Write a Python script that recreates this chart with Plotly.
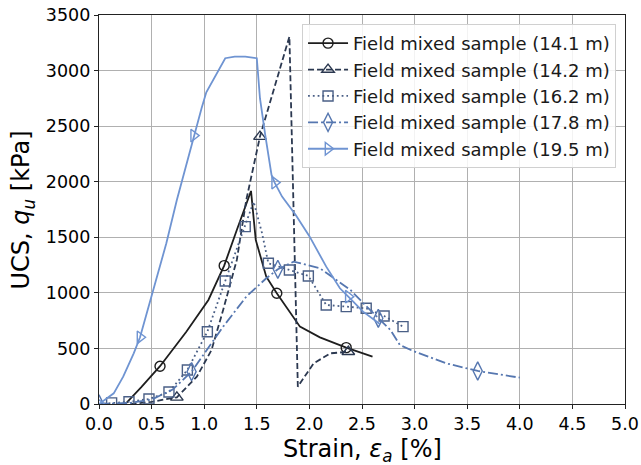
import plotly.graph_objects as go

# ---- data ----
labels = ["Field mixed sample (14.1 m)", "Field mixed sample (14.2 m)",
          "Field mixed sample (16.2 m)", "Field mixed sample (17.8 m)",
          "Field mixed sample (19.5 m)"]

x141 = [0.25, 0.40, 0.58, 0.83, 1.04, 1.19, 1.31, 1.445, 1.49, 1.59, 1.69, 1.91, 2.10, 2.35, 2.60]
y141 = [0, 150, 340, 650, 936, 1245, 1566, 1917, 1476, 1146, 996, 696, 600, 507, 426]
m141 = [0, 0, 1, 0, 0, 1, 0, 0, 0, 0, 1, 0, 0, 1, 0]

x142 = [0.30, 0.50, 0.74, 0.93, 1.07, 1.18, 1.31, 1.40, 1.53, 1.81, 1.89, 2.04, 2.20, 2.37]
y142 = [0, 20, 60, 246, 486, 846, 1296, 1836, 2406, 3306, 156, 366, 456, 470]
m142 = [0, 0, 1, 0, 0, 0, 0, 0, 1, 0, 0, 0, 0, 1]

x162 = [0.0, 0.12, 0.285, 0.475, 0.665, 0.84, 1.03, 1.20, 1.39, 1.47, 1.55, 1.61, 1.81, 1.99, 2.16, 2.35, 2.54, 2.71, 2.89]
y162 = [0, 10, 20, 45, 108, 306, 650, 1107, 1596, 1820, 1536, 1266, 1206, 1152, 891, 876, 861, 792, 696]
m162 = [0, 1, 1, 1, 1, 1, 1, 1, 1, 0, 0, 1, 1, 1, 1, 1, 1, 1, 1]

x178 = [0.0, 0.30, 0.50, 0.70, 0.88, 1.085, 1.18, 1.40, 1.59, 1.70, 1.85, 2.10, 2.39, 2.545, 2.655, 2.77, 2.86, 2.99, 3.30, 3.60, 4.00]
y178 = [0, 10, 40, 130, 291, 560, 696, 966, 1131, 1212, 1281, 1221, 1026, 876, 771, 666, 531, 475, 366, 297, 237]
m178 = [1, 0, 0, 0, 1, 0, 0, 0, 0, 1, 0, 0, 0, 0, 1, 0, 0, 0, 0, 1, 0]

x195 = [0.0, 0.03, 0.14, 0.23, 0.33, 0.39, 0.50, 0.64, 0.74, 0.865, 0.90, 0.975, 1.02, 1.15, 1.20, 1.29, 1.39,
        1.50, 1.53, 1.58, 1.64, 1.67, 1.74, 1.87, 2.00, 2.16, 2.29, 2.37, 2.51, 2.67]
y195 = [0, 20, 96, 246, 456, 600, 966, 1446, 1836, 2286, 2415, 2661, 2805, 3036, 3111, 3126, 3126,
        3111, 2751, 2421, 2061, 1992, 1866, 1700, 1510, 1236, 1041, 966, 831, 720]
m195 = [1, 0, 0, 0, 0, 1, 0, 0, 0, 0, 1, 0, 0, 0, 0, 0, 0, 0, 0, 0, 0, 1, 0, 0, 0, 0, 0, 1, 0, 0]

x_ticks = [0.0, 0.5, 1.0, 1.5, 2.0, 2.5, 3.0, 3.5, 4.0, 4.5, 5.0]
y_ticks = [0, 500, 1000, 1500, 2000, 2500, 3000, 3500]

x_title = "Strain, <i>ε</i><sub><i>a</i></sub> [%]"
y_title = "UCS, <i>q</i><sub><i>u</i></sub> [kPa]"

series = [
    (x141, y141, m141, "#1e1e1e", "solid", "circle-open", 10),
    (x142, y142, m142, "#2b3850", "6px,3px", "triangle-up-open", 11),
    (x162, y162, m162, "#4a5f86", "1.8px,3px", "square-open", 10),
    (x178, y178, m178, "#5677b0", "10px,3px,2px,3px", "diamond-tall-open", 13),
    (x195, y195, m195, "#6f94d2", "solid", "triangle-right-open", 11),
]

fig = go.Figure()
for i, (xs, ys, ms, col, dash, sym, sz) in enumerate(series):
    fig.add_trace(go.Scatter(x=xs, y=ys, mode="lines", showlegend=False,
                             line=dict(color=col, width=1.8, dash=dash), hoverinfo="skip"))
    mx = [x for x, m in zip(xs, ms) if m]
    my = [y for y, m in zip(ys, ms) if m]
    fig.add_trace(go.Scatter(x=mx, y=my, mode="markers", showlegend=False,
                             marker=dict(symbol=sym, size=sz, color=col, line=dict(width=1.4, color=col))))
    fig.add_trace(go.Scatter(x=[None], y=[None], mode="lines+markers", name=labels[i],
                             line=dict(color=col, width=1.8, dash=dash),
                             marker=dict(symbol=sym, size=sz, color=col, line=dict(width=1.4, color=col))))

axis_common = dict(showline=True, linecolor="#222222", linewidth=1.2, mirror=True,
                   showgrid=True, gridcolor="#b0b0b0", gridwidth=1,
                   ticks="outside", ticklen=4, tickcolor="#222222", zeroline=False,
                   automargin=False, tickfont=dict(size=17.5, color="#000000"))

fig.update_layout(
    width=641, height=465,
    margin=dict(l=99, r=16, t=15, b=61),
    paper_bgcolor="white", plot_bgcolor="white",
    font=dict(family="DejaVu Sans", color="#000000"),
    xaxis=dict(range=[0, 5], tickvals=x_ticks, ticktext=[f"{v:.1f}" for v in x_ticks], **axis_common),
    yaxis=dict(range=[0, 3500], tickvals=y_ticks, ticktext=[str(v) for v in y_ticks], **axis_common),
    legend=dict(x=0.386, y=0.977, xanchor="left", yanchor="top",
                bgcolor="rgba(255,255,255,0.85)", bordercolor="#d0d0d0", borderwidth=1,
                font=dict(size=18, color="#1a1a1a"), tracegroupgap=0, itemwidth=40),
    annotations=[
        dict(text=x_title, xref="paper", yref="paper", x=0.5, y=-0.12,
             xanchor="center", yanchor="middle", showarrow=False, font=dict(size=24)),
        dict(text=y_title, xref="paper", yref="paper", x=-0.1445, y=0.5, textangle=-90,
             xanchor="center", yanchor="middle", showarrow=False, font=dict(size=24)),
    ],
)

fig.write_html("out.html")
